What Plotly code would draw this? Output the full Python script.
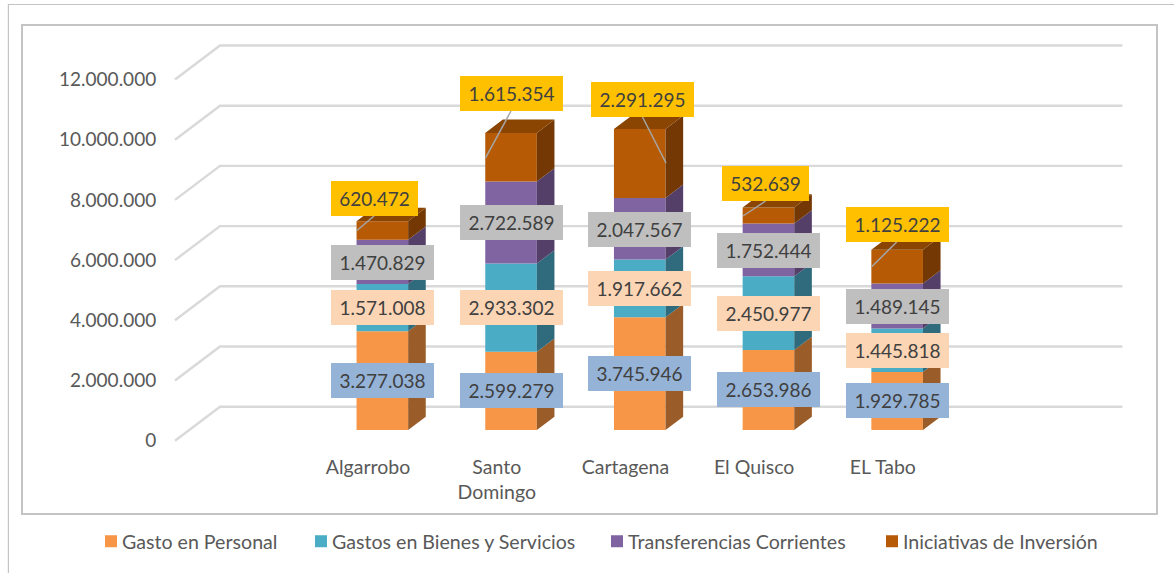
import plotly.graph_objects as go

# ---- data ----
categories = ["Algarrobo", "Santo<br>Domingo", "Cartagena", "El Quisco", "EL Tabo"]
gasto_personal = [3277038, 2599279, 3745946, 2653986, 1929785]
gasto_bienes = [1571008, 2933302, 1917662, 2450977, 1445818]
transferencias = [1470829, 2722589, 2047567, 1752444, 1489145]
inversion = [620472, 1615354, 2291295, 532639, 1125222]
series_names = ["Gasto en Personal", "Gastos en Bienes y Servicios",
                "Transferencias Corrientes", "Iniciativas de Inversión"]
y_ticks = [0, 2000000, 4000000, 6000000, 8000000, 10000000, 12000000]

# ---- style / geometry ----
W, H = 1174, 573
FONT = "Lato"
X0_PX, Y0_PX = 175.0, 440.7      # front-left corner of the 3D floor
UX, UY = 128.7, 60.2 / 2000000   # px per category, px per value
L, R, T, B = 170, 1130, 40, 450  # plot area in px


def px_x(p):
    return (p - X0_PX) / UX


def px_y(p):
    return (Y0_PX - p) / UY


WALL_DX, WALL_DY = 45 / UX, 34 / UY          # depth of the whole floor
BAR_W = 51.6 / UX
BAR_DX, BAR_DY = 17.6 / UX, 13.3 / UY        # depth of a bar
BAR_SHIFT = 14.3 / UX                        # bars sit back from the front edge
BASE = 10.7 / UY                             # same, vertically

front = ["#F79646", "#4BACC6", "#8064A2", "#B65A06"]
side = ["#9A5D2A", "#2F6B7C", "#533F68", "#733803"]
top_col = "#8A4503"
box_col = ["#95B3D7", "#FCD5B5", "#BFBFBF", "#FFC000"]
GRID = "#D9D9D9"
BORDER = "#C4C4C4"
LABEL = "#404040"
AXIS_TXT = "#595959"

values = [gasto_personal, gasto_bienes, transferencias, inversion]
n = len(categories)
centers_tick = [1.5 + i for i in range(n)]
centers_bar = [c + BAR_SHIFT for c in centers_tick]
legend_ids = ["legend", "legend2", "legend3", "legend4"]
legend_px = [82, 292, 588, 863]

fig = go.Figure()

# front faces
cum = [BASE] * n
bases = []
for s, vals in enumerate(values):
    bases.append(list(cum))
    fig.add_trace(go.Bar(x=centers_bar, y=vals, base=list(cum), width=BAR_W, name=series_names[s],
                         legend=legend_ids[s], showlegend=True,
                         marker=dict(color=front[s], line=dict(width=0)), hoverinfo="skip"))
    cum = [c + v for c, v in zip(cum, vals)]

# side faces and top faces, from the same stacked values
for s, vals in enumerate(values):
    xs, ys = [], []
    for i in range(n):
        xr = centers_bar[i] + BAR_W / 2
        b = bases[s][i]
        t = b + vals[i]
        xs += [xr, xr + BAR_DX, xr + BAR_DX, xr, xr, None]
        ys += [b, b + BAR_DY, t + BAR_DY, t, b, None]
    fig.add_trace(go.Scatter(x=xs, y=ys, mode="lines", fill="toself", fillcolor=side[s],
                             line=dict(width=0), showlegend=False, hoverinfo="skip"))
xs, ys = [], []
for i in range(n):
    xl = centers_bar[i] - BAR_W / 2
    xr = centers_bar[i] + BAR_W / 2
    t = cum[i]
    xs += [xl, xr, xr + BAR_DX, xl + BAR_DX, xl, None]
    ys += [t, t, t + BAR_DY, t + BAR_DY, t, None]
fig.add_trace(go.Scatter(x=xs, y=ys, mode="lines", fill="toself", fillcolor=top_col,
                         line=dict(width=0), showlegend=False, hoverinfo="skip"))

# data label boxes: pixel centres per series, bottom to top
label_x = [382.5, 511.5, 639.5, 768.5, 897.5]
label_x_top = [374.5, 511.5, 642.5, 765.5, 897.5]
label_y = [
    [380.3, 390.5, 373.5, 389.5, 400.5],
    [307.5, 307.5, 288.5, 313.5, 350.5],
    [262.5, 222.5, 229.5, 250.5, 306.0],
    [198.5, 93.5, 99.5, 183.5, 224.5],
]
# leader lines of the top series: tip on the bar, start on the box
lead_tip = [(356.7, 230.7), (485.7, 157.7), (666.0, 163.0), (743.0, 216.0), (871.7, 266.7)]
lead_start = [(374.0, 216.0), (511.0, 111.0), (642.5, 117.0), (765.6, 201.0), (896.7, 242.0)]

lx, ly = [], []
for a, b in zip(lead_tip, lead_start):
    lx += [px_x(a[0]), px_x(b[0]), None]
    ly += [px_y(a[1]), px_y(b[1]), None]
fig.add_trace(go.Scatter(x=lx, y=ly, mode="lines", line=dict(color="#A6A6A6", width=1.5),
                         showlegend=False, hoverinfo="skip"))

annotations = []
for s, vals in enumerate(values):
    for i, v in enumerate(vals):
        lxs = label_x_top if s == 3 else label_x
        txt = f"{v:,}".replace(",", ".")
        bw = 103 if len(txt) > 7 else 87
        annotations.append(dict(
            x=px_x(lxs[i]), y=px_y(label_y[s][i]), xref="x", yref="y", text=txt,
            showarrow=False, bgcolor=box_col[s], width=bw, height=35, borderpad=0, borderwidth=0,
            align="center", valign="middle",
            font=dict(family=FONT, size=19, color=LABEL)))


def paper_x(p):
    return (p - L) / (R - L)


def paper_y(p):
    return (B - p) / (B - T)


shapes = []
# 3D grid: diagonal on the side wall, horizontal on the back wall
xmax = px_x(1122.4)
for v in y_ticks:
    shapes.append(dict(type="path", layer="below", xref="x", yref="y",
                       path=f"M 0 {v} L {WALL_DX} {v + WALL_DY} L {xmax} {v + WALL_DY}",
                       line=dict(color=GRID, width=2.4)))
# frames
shapes.append(dict(type="rect", layer="below", xref="paper", yref="paper",
                   x0=paper_x(22), x1=paper_x(1157), y0=paper_y(514), y1=paper_y(25),
                   line=dict(color=BORDER, width=2)))
shapes.append(dict(type="path", layer="below", xref="paper", yref="paper",
                   path=f"M {paper_x(8.4)} {paper_y(573)} L {paper_x(8.4)} {paper_y(4.5)} L {paper_x(1174)} {paper_y(4.5)}",
                   line=dict(color=BORDER, width=1.2)))

legend_style = dict(orientation="h", y=paper_y(561), xanchor="left", yanchor="bottom",
                    bgcolor="rgba(0,0,0,0)", font=dict(family=FONT, size=19.6, color=AXIS_TXT))

fig.update_layout(
    width=W, height=H, margin=dict(l=L, r=W - R, t=T, b=H - B, pad=0),
    paper_bgcolor="white", plot_bgcolor="rgba(0,0,0,0)",
    barmode="overlay", separators=",.",
    font=dict(family=FONT, color=AXIS_TXT),
    shapes=shapes, annotations=annotations,
    xaxis=dict(range=[px_x(L), px_x(R)], tickmode="array", tickvals=centers_tick, ticktext=categories,
               showgrid=False, zeroline=False, showline=False, ticks="", ticklabelstandoff=3,
               tickfont=dict(family=FONT, size=19.5, color=AXIS_TXT)),
    yaxis=dict(range=[px_y(B), px_y(T)], tickmode="array", tickvals=y_ticks, tickformat=",.0f",
               showgrid=False, zeroline=False, showline=False, ticks="outside", ticklen=9,
               tickcolor="rgba(0,0,0,0)", tickfont=dict(family=FONT, size=19, color=AXIS_TXT)),
    legend=dict(x=paper_x(legend_px[0]), **legend_style),
    legend2=dict(x=paper_x(legend_px[1]), **legend_style),
    legend3=dict(x=paper_x(legend_px[2]), **legend_style),
    legend4=dict(x=paper_x(legend_px[3]), **legend_style),
)

post = """
document.body.style.margin = '0';
function nudge() {
  document.querySelectorAll('.legendsymbols').forEach(function (g) {
    g.setAttribute('transform', 'translate(9,0)');
  });
}
nudge();
requestAnimationFrame(nudge);
setTimeout(nudge, 50);
"""
fig.write_html("out.html", post_script=post, config={"displayModeBar": False})
